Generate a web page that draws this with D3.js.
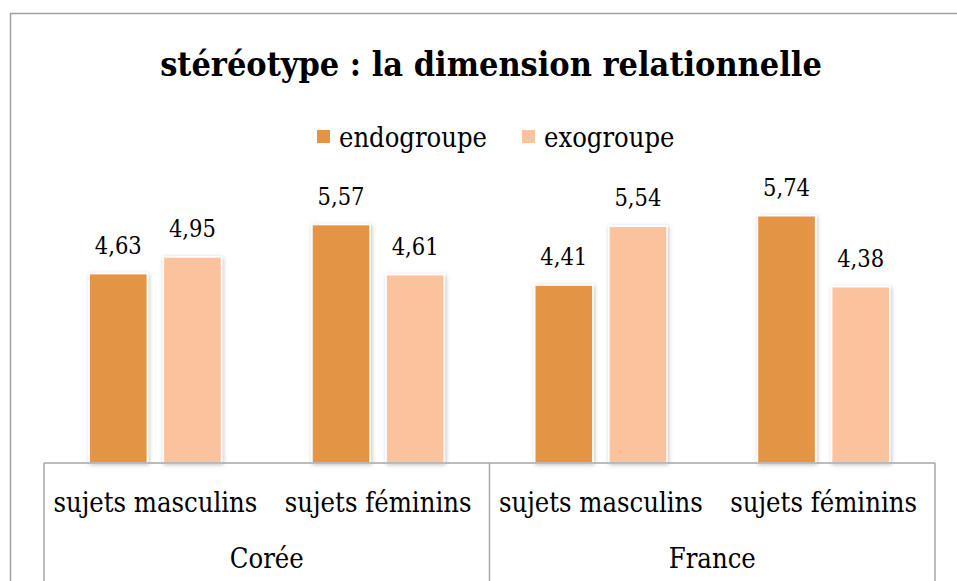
<!DOCTYPE html>
<html>
<head>
<meta charset="utf-8">
<title>stéréotype : la dimension relationnelle</title>
<script src="https://cdn.jsdelivr.net/npm/d3@7"></script>
<style>
  body { margin: 0; background: #fff; }
  svg { display: block; }
  text { font-family: "DejaVu Serif Condensed", "DejaVu Serif", "Liberation Serif", serif; fill: #000; }
</style>
</head>
<body>
<svg id="chart"></svg>
<script>
// data
var groups = ["Corée", "France"];
var subjects = ["sujets masculins", "sujets féminins"];
var series = ["endogroupe", "exogroupe"];
var endogroupe = [4.63, 5.57, 4.41, 5.74];
var exogroupe = [4.95, 4.61, 5.54, 4.38];
var colors = ["#e39444", "#fbc39d"];

var w = 957, h = 581;
var svg = d3.select("#chart").attr("width", w).attr("height", h);

// shadow under the bars
var defs = svg.append("defs");
var f = defs.append("filter").attr("id", "shadow")
  .attr("x", "-20%").attr("y", "-20%").attr("width", "140%").attr("height", "140%");
f.append("feDropShadow").attr("dx", 1).attr("dy", 1).attr("stdDeviation", 2)
  .attr("flood-color", "#000").attr("flood-opacity", 0.25);

// outer frame (right and bottom run off the picture)
svg.append("rect").attr("x", 10.5).attr("y", 13.5).attr("width", 1000).attr("height", 1000)
  .attr("fill", "none").attr("stroke", "#a0a0a0").attr("stroke-width", 1.5);

// font size that makes a sample string as wide as in the picture
function sizeFor(sample, width, bold) {
  var t = svg.append("text").attr("font-size", 100).attr("font-weight", bold ? "bold" : null).text(sample);
  var len = t.node().getComputedTextLength();
  t.remove();
  return 100 * width / len;
}
var labelSize = sizeFor("sujets masculins", 204);
var valueSize = sizeFor("4,63", 47);
var legendSize = sizeFor("endogroupe", 148);

svg.append("text").attr("x", 491).attr("y", 76)
  .attr("text-anchor", "middle").attr("font-weight", "bold")
  .attr("font-size", sizeFor("stéréotype : la dimension relationnelle", 662, true))
  .text("stéréotype : la dimension relationnelle");

// categories
var cats = [];
groups.forEach(function(g) {
  subjects.forEach(function(s) { cats.push(g + "|" + s); });
});

var left = 44, right = 935, base = 463;
var x0 = d3.scaleBand().domain(cats).range([left, right]);
var x1 = d3.scaleBand().domain(series).range([0, x0.bandwidth()]).paddingInner(0.216).paddingOuter(0.61);
var y = d3.scaleLinear().domain([1, 7]).range([base, 150]);

var rows = cats.map(function(c, i) {
  return { cat: c, values: [endogroupe[i], exogroupe[i]] };
});

var catG = svg.selectAll("g.cat").data(rows).enter().append("g")
  .attr("class", "cat")
  .attr("transform", function(d) { return "translate(" + x0(d.cat) + ",0)"; });

catG.selectAll("rect").data(function(d) {
    return d.values.map(function(v, j) { return { key: series[j], v: v, j: j }; });
  }).enter().append("rect")
  .attr("x", function(d) { return x1(d.key); })
  .attr("width", x1.bandwidth())
  .attr("y", function(d) { return y(d.v); })
  .attr("height", function(d) { return base - y(d.v); })
  .attr("fill", function(d) { return colors[d.j]; })
  .attr("stroke", "#fff").attr("stroke-width", 1.5)
  .attr("filter", "url(#shadow)");

catG.selectAll("text.val").data(function(d) {
    return d.values.map(function(v, j) { return { key: series[j], v: v }; });
  }).enter().append("text")
  .attr("class", "val")
  .attr("x", function(d) { return x1(d.key) + x1.bandwidth() / 2; })
  .attr("y", function(d) { return y(d.v) - 20; })
  .attr("text-anchor", "middle").attr("font-size", valueSize)
  .text(function(d) { return d.v.toFixed(2).replace(".", ","); });

// multi-level category axis
var axisColor = "#a6a6a6";
svg.append("line").attr("x1", left).attr("x2", right).attr("y1", base).attr("y2", base)
  .attr("stroke", axisColor).attr("stroke-width", 1.5);
var groupEdges = [left].concat(groups.map(function(g, i) {
  return x0(cats[(i + 1) * subjects.length - 1]) + x0.bandwidth();
}));
svg.selectAll("line.div").data(groupEdges).enter().append("line")
  .attr("class", "div")
  .attr("x1", function(d) { return d; }).attr("x2", function(d) { return d; })
  .attr("y1", base).attr("y2", h)
  .attr("stroke", axisColor).attr("stroke-width", 1.5);

svg.selectAll("text.sub").data(cats).enter().append("text")
  .attr("class", "sub")
  .attr("x", function(d) { return x0(d) + x0.bandwidth() / 2; })
  .attr("y", 512)
  .attr("text-anchor", "middle").attr("font-size", labelSize)
  .text(function(d) { return d.split("|")[1]; });

svg.selectAll("text.grp").data(groups).enter().append("text")
  .attr("class", "grp")
  .attr("x", function(d, i) { return (groupEdges[i] + groupEdges[i + 1]) / 2; })
  .attr("y", 568)
  .attr("text-anchor", "middle").attr("font-size", labelSize)
  .text(function(d) { return d; });

// legend
var legend = svg.append("g");
var legX = [317, 522];
series.forEach(function(s, i) {
  legend.append("rect").attr("x", legX[i]).attr("y", 130).attr("width", 13).attr("height", 13)
    .attr("fill", colors[i]);
  legend.append("text").attr("x", legX[i] + 22).attr("y", 147).attr("font-size", legendSize).text(s);
});
</script>
</body>
</html>
